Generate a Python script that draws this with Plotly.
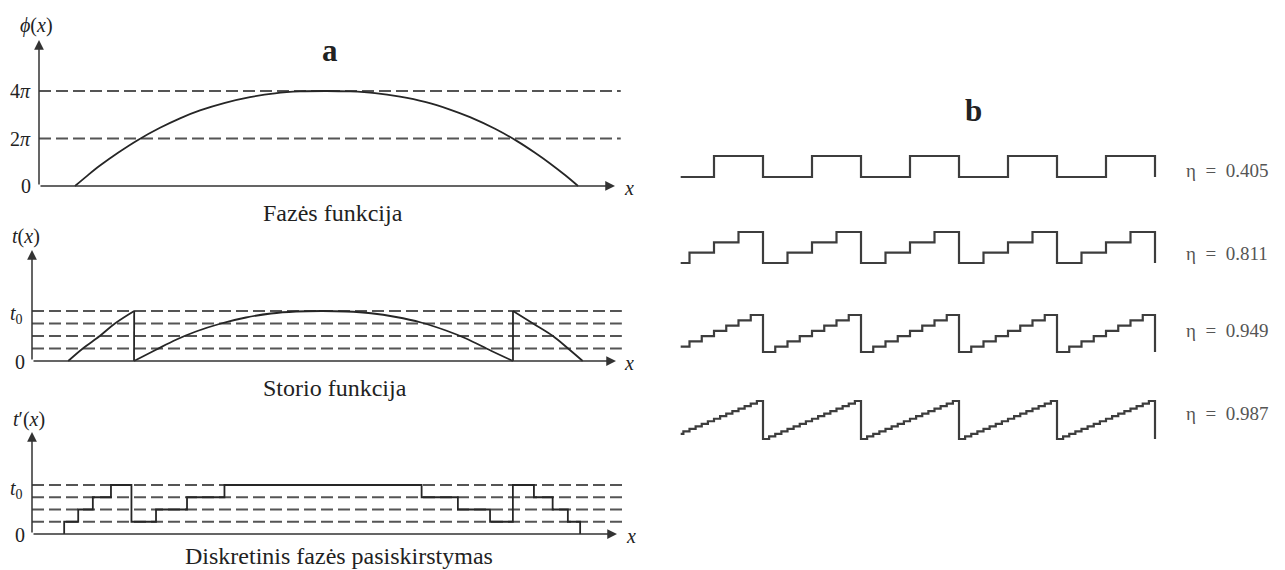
import plotly.graph_objects as go

W, H = 1285, 570

# ---------------- data ----------------
# (a) phase function phi(x), in units of pi
phase_x = [6.25, 8.51, 10.59, 13.72, 17.19, 21.01, 24.48, 27.95, 32.29, 36.63, 40.97, 45.31, 49.91,
           54.0, 58.33, 62.67, 67.01, 71.35, 74.83, 79.17, 83.0, 86.11, 88.72, 91.32, 93.58]
phase_pi = [0, 0.46, 0.86, 1.40, 1.94, 2.45, 2.85, 3.18, 3.50, 3.74, 3.90, 3.98, 4.0,
            3.98, 3.91, 3.76, 3.54, 3.22, 2.90, 2.41, 1.89, 1.40, 0.95, 0.46, 0]
phase_ticks = [0, 2, 4]
phase_ticktext = ["0", "2<i>π</i>", "4<i>π</i>"]

# (a) thickness function t(x)/t0, three branches
thick_a_x = [6.2, 8.7, 11.6, 14.2, 17.5]
thick_a_t = [0, 0.25, 0.5, 0.75, 1.0]
thick_b_x = [17.47, 21.23, 24.66, 28.08, 32.36, 36.64, 40.92, 45.21, 49.74,
             53.77, 58.05, 62.33, 66.61, 70.89, 74.32, 78.60, 82.36]
thick_b_t = [0, 0.225, 0.425, 0.59, 0.75, 0.87, 0.95, 0.99, 1.0,
             0.99, 0.955, 0.88, 0.77, 0.61, 0.45, 0.205, 0]
thick_c_x = [82.36, 85.8, 89.2, 91.8, 94.3]
thick_c_t = [1.0, 0.75, 0.5, 0.25, 0]

# (a) discretised thickness t'(x), levels in quarters of t0
quant_x = [5.5, 5.5, 7.9, 10.4, 13.5, 17.0, 21.2, 26.5, 32.9, 66.6, 72.8, 78.3, 82.2, 85.8, 89.0, 91.6, 93.7]
quant_q = [0, 1, 2, 3, 4, 1, 2, 3, 4, 3, 2, 1, 4, 3, 2, 1, 0]
quant_levels = [0.25, 0.5, 0.75, 1.0]

# (b) multilevel profiles: one period of levels, efficiency
period_levels = [
    [0, 1],
    [0, 1, 2, 3],
    [0, 1, 2, 3, 4, 5, 6, 7],
    [0, 1, 2, 3, 4, 5, 6, 7, 8, 9, 10, 11, 12, 13, 14, 15],
]
eta_values = ["0.405", "0.811", "0.949", "0.987"]
n_periods = 5
profile_start = 0.16

# ---------------- styling ----------------
SERIF = "Liberation Serif"
INK = "#222222"
CURVE = dict(color="#262626", width=1.8)
DASH = dict(color="#555555", width=1.8, dash="12px,5px")
STEP = dict(color="#3d3d3d", width=2.2)


def fx(p):
    return p / W


def fy(p):
    return 1 - p / H


def domain(v0, p0, v1, p1, lo, hi, axis):
    """Axis domain so that value v0 sits at pixel p0 and v1 at pixel p1."""
    f = fx if axis == "x" else fy
    f0, f1 = f(p0), f(p1)
    k = (f1 - f0) / (v1 - v0)
    return [f0 + (lo - v0) * k, f0 + (hi - v0) * k]


fig = go.Figure()
layout_axes = {}


def add_axes(i, xmap, ymap):
    xr, yr = xmap[4:], ymap[4:]
    layout_axes[f"xaxis{i}"] = dict(
        domain=domain(*xmap[:4], *xr, "x"), range=xr, visible=False,
        anchor=f"y{i}", fixedrange=True)
    layout_axes[f"yaxis{i}"] = dict(
        domain=domain(*ymap[:4], *yr, "y"), range=yr, visible=False,
        anchor=f"x{i}", fixedrange=True)


def line(i, x, y, style, shape="linear", smoothing=None):
    ln = dict(**style, shape=shape)
    if smoothing is not None:
        ln["smoothing"] = smoothing
    fig.add_trace(go.Scatter(
        x=x, y=y, mode="lines", line=ln,
        xaxis=f"x{i}", yaxis=f"y{i}", showlegend=False, hoverinfo="skip"))


annotations = []


def text(px, py, s, size=20, xanchor="center", color=INK, bold=False):
    if bold:
        s = f"<b>{s}</b>"
    annotations.append(dict(
        x=fx(px), y=fy(py), xref="paper", yref="paper", text=s, showarrow=False,
        xanchor=xanchor, yanchor="middle",
        font=dict(family=SERIF, size=size, color=color)))


def arrow(i, x0, y0, x1, y1):
    annotations.append(dict(
        x=x1, y=y1, ax=x0, ay=y0, xref=f"x{i}", yref=f"y{i}",
        axref=f"x{i}", ayref=f"y{i}", text="", showarrow=True,
        arrowhead=2, arrowsize=1.3, arrowwidth=1.5, arrowcolor="#333333",
        standoff=0, startstandoff=0))


# ---- panel a1: phase function ----
add_axes(1, (0, 39, 100, 615, -2, 104), (0, 186, 4, 91, -0.3, 6.5))
for lv in phase_ticks[1:]:
    line(1, [0, 101], [lv, lv], DASH)
line(1, phase_x, phase_pi, CURVE, "spline", 1.0)
arrow(1, 0, 0, 100, 0)
arrow(1, 0, 0, 0, 6.15)
for lv, lab in zip(phase_ticks, phase_ticktext):
    text(33, 186 - lv * 23.75, lab, 20, "right")
text(36, 25, "<i>ϕ</i>(<i>x</i>)", 20)
text(622, 188, "<i>x</i>", 20, "left")
text(333, 213, "Fazės funkcija", 24)
text(330, 50, "a", 31, bold=True)

# ---- panel a2: thickness function ----
add_axes(2, (0, 32, 100, 616, -2, 104), (0, 361, 1, 311, -0.2, 2.5))
for lv in quant_levels:
    line(2, [0, 101], [lv, lv], DASH)
line(2, thick_a_x, thick_a_t, CURVE, "spline", 1.0)
line(2, [thick_a_x[-1], thick_b_x[0]], [thick_a_t[-1], thick_b_t[0]], CURVE)
line(2, thick_b_x, thick_b_t, CURVE, "spline", 1.0)
line(2, [thick_b_x[-1], thick_c_x[0]], [thick_b_t[-1], thick_c_t[0]], CURVE)
line(2, thick_c_x, thick_c_t, CURVE, "spline", 1.0)
arrow(2, 0, 0, 100, 0)
arrow(2, 0, 0, 0, 2.22)
text(26, 237, "<i>t</i>(<i>x</i>)", 20)
text(8, 314, "<i>t</i><sub>0</sub>", 20, "left")
text(27, 362, "0", 20, "right")
text(622, 363, "<i>x</i>", 20, "left")
text(335, 388, "Storio funkcija", 24)

# ---- panel a3: discretised profile ----
add_axes(3, (0, 32, 100, 617, -2, 104), (0, 534, 1, 485, -0.2, 2.4))
for lv in quant_levels:
    line(3, [0, 101], [lv, lv], DASH)
line(3, quant_x, [q / 4 for q in quant_q], CURVE, "hv")
arrow(3, 0, 0, 100, 0)
arrow(3, 0, 0, 0, 2.08)
text(29, 419, "<i>t</i>′(<i>x</i>)", 20)
text(8, 489, "<i>t</i><sub>0</sub>", 20, "left")
text(27, 535, "0", 20, "right")
text(624, 536, "<i>x</i>", 20, "left")
text(339, 556, "Diskretinis fazės pasiskirstymas", 24)

# ---- panel b: multilevel gratings ----
row_pixels = [(177, 156), (263, 232), (352, 315), (439, 401)]
label_y = [170, 253, 330, 413]
for r, (levels, eta) in enumerate(zip(period_levels, eta_values)):
    i = 4 + r
    n = len(levels)
    top = levels[-1]
    pad = 0.1 * top + 0.3
    add_axes(i, (1, 763, 5, 1155, 0.05, 5.15),
             (0, row_pixels[r][0], top, row_pixels[r][1], -pad, top + pad))
    xs, ys = [], []
    for p in range(n_periods):
        for k, lv in enumerate(levels):
            x0 = p + k / n
            if x0 + 1 / n <= profile_start:
                continue
            xs.append(max(x0, profile_start))
            ys.append(lv)
    xs.append(n_periods)
    ys.append(levels[0])
    line(i, xs, ys, STEP, "hv")
    text(1184, label_y[r], f"η\u00a0\u00a0=\u00a0\u00a0{eta}", 19, "left", "#555555")

text(973, 111, "b", 31, bold=True)

fig.update_layout(
    width=W, height=H, autosize=False,
    margin=dict(l=0, r=0, t=0, b=0),
    paper_bgcolor="white", plot_bgcolor="rgba(0,0,0,0)",
    showlegend=False, annotations=annotations, **layout_axes)

fig.write_html("out.html", config={"displayModeBar": False})
